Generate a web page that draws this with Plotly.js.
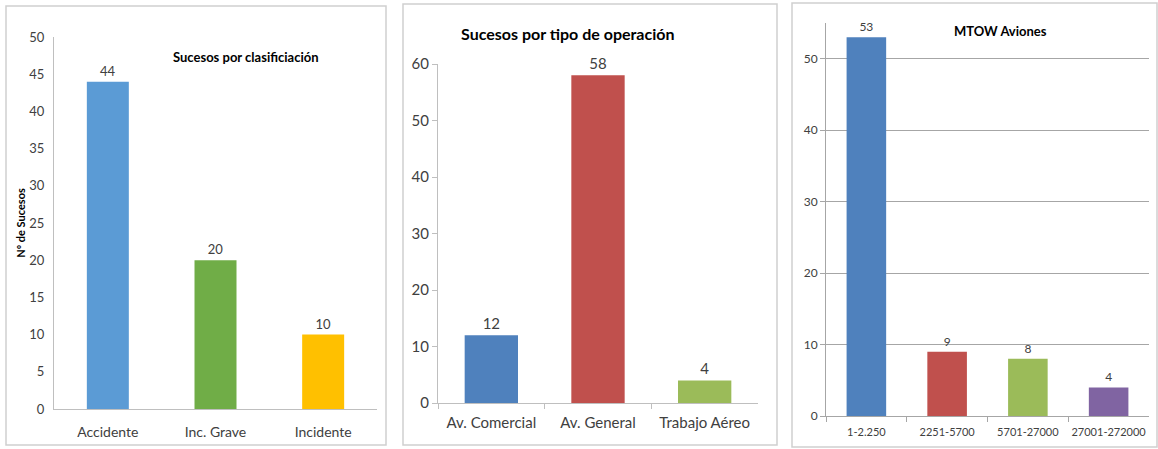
<!DOCTYPE html>
<html><head><meta charset="utf-8">
<script src="https://cdn.plot.ly/plotly-3.0.1.min.js"></script>
<style>html,body{margin:0;padding:0;background:#fff;}#chart{width:1158px;height:449px;}</style>
</head><body><div id="chart"></div>
<script>
// Panel 1: Sucesos por clasificación
const catsClasif = ["Accidente", "Inc. Grave", "Incidente"];
const valsClasif = [44, 20, 10];
const colorsClasif = ["#5b9bd5", "#70ad47", "#ffc000"];
// Panel 2: Sucesos por tipo de operación
const catsOper = ["Av. Comercial", "Av. General", "Trabajo Aéreo"];
const valsOper = [12, 58, 4];
const colorsOper = ["#4f81bd", "#c0504d", "#9bbb59"];
// Panel 3: MTOW Aviones
const catsMtow = ["1-2.250", "2251-5700", "5701-27000", "27001-272000"];
const valsMtow = [53, 9, 8, 4];
const colorsMtow = ["#4f81bd", "#c0504d", "#9bbb59", "#8064a2"];

const W = 1158, H = 449;
const px = v => v / W, py = v => 1 - v / H;
const FONT = "Lato, 'Open Sans', sans-serif";
const TXT = "#404040";

const traces = [
  {type: "bar", x: catsClasif, y: valsClasif, marker: {color: colorsClasif}, width: 0.39,
   text: valsClasif.map(String), textposition: "outside", cliponaxis: false,
   textfont: {size: 13, color: TXT, family: FONT}, xaxis: "x", yaxis: "y", hoverinfo: "skip"},
  {type: "bar", x: catsOper, y: valsOper, marker: {color: colorsOper}, width: 0.5,
   text: valsOper.map(String), textposition: "outside", cliponaxis: false,
   textfont: {size: 15, color: TXT, family: FONT}, xaxis: "x2", yaxis: "y2", hoverinfo: "skip"},
  {type: "bar", x: catsMtow, y: valsMtow, marker: {color: colorsMtow}, width: 0.49,
   text: valsMtow.map(String), textposition: "outside", cliponaxis: false,
   textfont: {size: 12, color: TXT, family: FONT}, xaxis: "x3", yaxis: "y3", hoverinfo: "skip"}
];

const axBase = {showgrid: false, zeroline: false, showline: true, linecolor: "#bfbfbf", linewidth: 1, fixedrange: true};

const layout = {
  width: W, height: H, margin: {l: 0, r: 0, t: 0, b: 0},
  paper_bgcolor: "#fff", plot_bgcolor: "rgba(0,0,0,0)", showlegend: false,
  font: {family: FONT, color: TXT},
  bargap: 0.5,
  xaxis: Object.assign({}, axBase, {domain: [px(54), px(377)], anchor: "y",
    tickfont: {size: 14, color: TXT}, ticks: "", ticklen: 0, tickangle: 0, ticklabelstandoff: 10}),
  yaxis: Object.assign({}, axBase, {domain: [py(409), py(37)], anchor: "x", range: [0, 50], dtick: 5,
    tickfont: {size: 13, color: TXT}, ticks: "", ticklabelstandoff: 6,
    title: {text: "<b>Nº de Sucesos</b>", font: {size: 11, color: "#000"}, standoff: 1}}),
  xaxis2: Object.assign({}, axBase, {domain: [px(438), px(758)], anchor: "y2",
    tickfont: {size: 15, color: TXT}, ticks: "outside", ticklen: 5, tickcolor: "#bfbfbf", tickson: "boundaries",
    tickangle: 0, ticklabelstandoff: 6}),
  yaxis2: Object.assign({}, axBase, {domain: [py(403), py(64)], anchor: "x2", range: [0, 60], dtick: 10,
    tickfont: {size: 15, color: TXT}, ticks: "outside", ticklen: 5, tickcolor: "#bfbfbf"}),
  xaxis3: Object.assign({}, axBase, {domain: [px(826), px(1149)], anchor: "y3",
    tickfont: {size: 11, color: TXT}, ticks: "outside", ticklen: 5, tickcolor: "#a6a6a6", tickson: "boundaries",
    linecolor: "#a6a6a6", tickangle: 0, ticklabelstandoff: 6}),
  yaxis3: Object.assign({}, axBase, {domain: [py(416), py(23)], anchor: "x3", range: [0, 55], dtick: 10,
    showgrid: true, gridcolor: "#a6a6a6", gridwidth: 1, linecolor: "#a6a6a6",
    tickfont: {size: 12, color: TXT}, ticks: "outside", ticklen: 5, tickcolor: "#a6a6a6"}),
  shapes: [
    {type: "rect", xref: "paper", yref: "paper", x0: px(6), x1: px(386), y0: py(445), y1: py(6), line: {color: "#d0d0d0", width: 1.5}},
    {type: "rect", xref: "paper", yref: "paper", x0: px(403), x1: px(777), y0: py(445), y1: py(4), line: {color: "#d0d0d0", width: 1.5}},
    {type: "rect", xref: "paper", yref: "paper", x0: px(792), x1: px(1157), y0: py(447), y1: py(3), line: {color: "#d0d0d0", width: 1.5}}
  ],
  annotations: [
    {xref: "paper", yref: "paper", x: px(246), y: py(57), text: "<b>Sucesos por clasificiación</b>", showarrow: false,
     font: {size: 13, color: "#000", family: FONT}, xanchor: "center", yanchor: "middle"},
    {xref: "paper", yref: "paper", x: px(568), y: py(33), text: "<b>Sucesos por tipo de operación</b>", showarrow: false,
     font: {size: 16, color: "#000", family: FONT}, xanchor: "center", yanchor: "middle"},
    {xref: "paper", yref: "paper", x: px(1000), y: py(31), text: "<b>MTOW Aviones</b>", showarrow: false,
     font: {size: 13, color: "#000", family: FONT}, xanchor: "center", yanchor: "middle"}
  ]
};

Plotly.newPlot("chart", traces, layout, {staticPlot: true, displayModeBar: false});
</script></body></html>
